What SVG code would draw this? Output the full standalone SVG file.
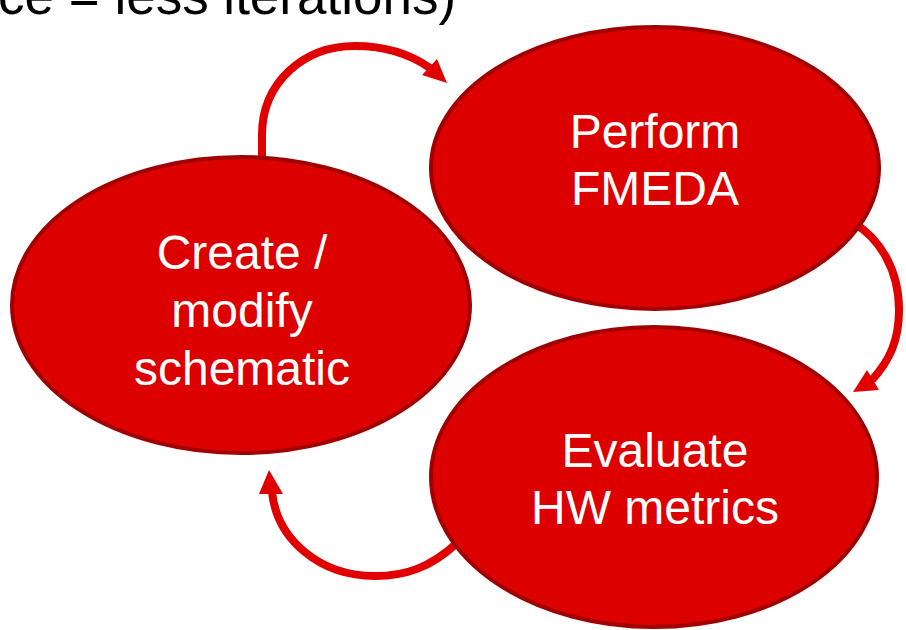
<svg xmlns="http://www.w3.org/2000/svg" width="906" height="630" viewBox="0 0 906 630">
  <style>
    .node { fill: #dc0000; stroke: #a00000; stroke-width: 4; }
    .label { font-family: "Liberation Sans", Arial, sans-serif; font-size: 48px; fill: #ffffff; text-anchor: middle; }
    .title { font-family: "Liberation Sans", Arial, sans-serif; font-size: 53px; fill: #000000; }
    .link { fill: none; stroke: #e00000; stroke-width: 8; }
    .head { fill: #e00000; }
  </style>
  <rect width="906" height="630" fill="#ffffff"/>
  <text class="title" x="-2" y="14">ce = less iterations)</text>

  <!-- cycle connectors -->
  <g id="connectors">
    <path class="link" d="M262,158 V135 C262,83 303,46 355,46 C385,46 410,54 430,68"/>
    <polygon class="head" points="447,83 422,75 437,59"/>
    <path class="link" d="M852,222 C880,238 899,270 899,310 C899,340 890,360 872,380"/>
    <polygon class="head" points="853,392 867,370 879,390"/>
    <path class="link" d="M457,543 C430,568 405,576 375,576 C320,576 277,540 272,492"/>
    <polygon class="head" points="269,470 259,494 283,494"/>
  </g>

  <g id="create-modify-schematic">
    <ellipse class="node" cx="241" cy="305" rx="229" ry="148"/>
    <text class="label" x="242" y="269">Create /</text>
    <text class="label" x="242" y="327">modify</text>
    <text class="label" x="242" y="385">schematic</text>
  </g>

  <g id="perform-fmeda">
    <ellipse class="node" cx="655" cy="168" rx="224" ry="141"/>
    <text class="label" x="655" y="148">Perform</text>
    <text class="label" x="655" y="205">FMEDA</text>
  </g>

  <g id="evaluate-hw-metrics">
    <ellipse class="node" cx="654" cy="477" rx="223" ry="150"/>
    <text class="label" x="655" y="467">Evaluate</text>
    <text class="label" x="655" y="524">HW metrics</text>
  </g>
</svg>
